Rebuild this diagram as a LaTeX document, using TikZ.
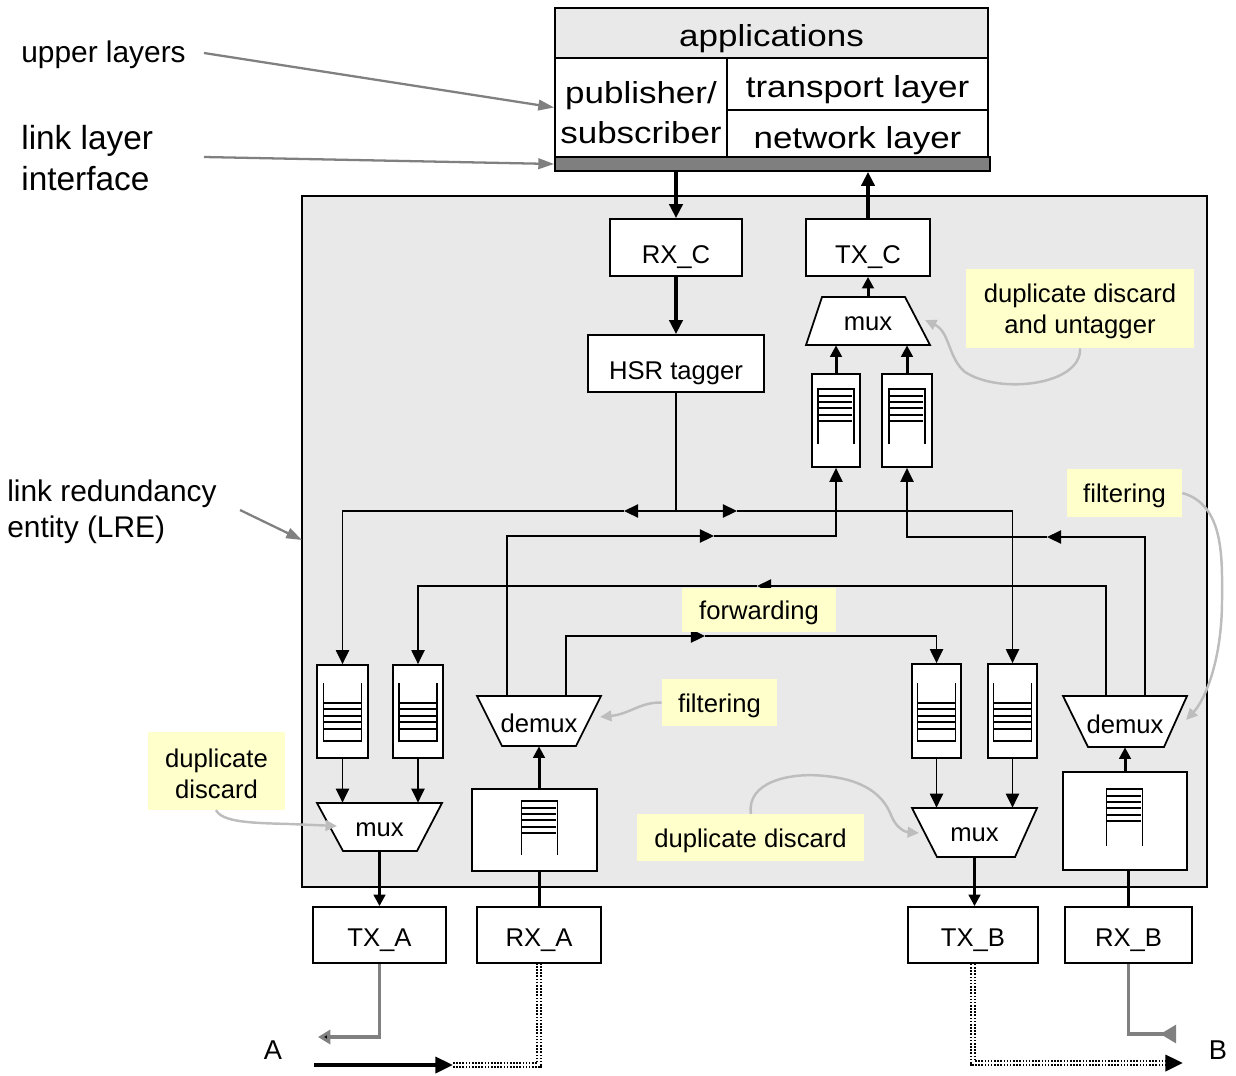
\documentclass[tikz,border=0pt]{standalone}
\usepackage{fontspec}
\setmainfont{Liberation Sans}
\newfontfamily\stretchedsans[FakeStretch=1.15]{Liberation Sans}
\usetikzlibrary{arrows.meta,fit,calc}

\definecolor{lregray}{HTML}{E9E9E9}
\definecolor{notefill}{HTML}{FFFFCC}
\definecolor{bargray}{HTML}{7F7F7F}
\definecolor{pointergray}{HTML}{808080}
\definecolor{remarkgray}{HTML}{BDBDBD}

\tikzset{
  block/.style={draw=black, line width=1pt, fill=white, inner sep=0pt},
  toptext/.style={font=\stretchedsans\fontsize{17.3pt}{23pt}\selectfont, yshift=-3pt},
  porttext/.style={yshift=-3.2pt},
  trapext/.style={yshift=-1.5pt},
  notetext/.style={yshift=-1.7pt, align=center},
  note/.style={fill=notefill, inner sep=0pt},
  plainwire/.style={line width=1pt},
  conn/.style={line width=1pt, -{Triangle[width=7.5pt,length=8pt]}},
  midarr/.style={line width=1.7pt, -{Triangle[width=6.5pt,length=6.5pt]}},
  busarr/.style={line width=2.2pt, -{Triangle[width=7.5pt,length=8pt]}},
  remark/.style={draw=remarkgray, line width=1.4pt, -{Triangle[width=6pt,length=6.5pt,fill=remarkgray]}},
  pointer/.style={draw=pointergray, line width=1.3pt, -{Triangle[width=6pt,length=9pt,fill=pointergray]}},
  linewire/.style={draw=pointergray, line width=2.2pt},
  hatch/.style={line width=3.3pt, draw=black, dash pattern=on 0.9pt off 0.9pt,
    preaction={draw=white, line width=3.3pt, solid},
    postaction={draw=white, line width=1.3pt, solid}},
  bigarr/.style={line width=2.2pt, -{Triangle[width=9pt,length=10pt]}},
}

% FIFO open at the top, #1 = centre of its floor
\newcommand{\fifofloor}[1]{%
  \begin{scope}[shift={#1}]
    \draw[line width=1pt] (-19,-58) -- (-19,0) -- (19,0) -- (19,-58);
    \foreach \h in {12,19,25,32,38} \draw[line width=1pt] (-19,-\h) -- (19,-\h);
  \end{scope}}

% FIFO open at the bottom, #1 = centre of its lid, #2 = depth
\newcommand{\fifolid}[2]{%
  \begin{scope}[shift={#1}]
    \draw[line width=1pt] (-18,#2) -- (-18,0) -- (18,0) -- (18,#2);
    \foreach \h in {7,13,19,26,32} \draw[line width=1pt] (-18,\h) -- (16,\h);
  \end{scope}}

% trapezium node: name, four corners, text
\newcommand{\trapnode}[6]{%
  \draw[line width=1pt, fill=white] #2 -- #3 -- #4 -- #5 -- cycle;
  \node[inner sep=0pt, fit={#2 #3 #4 #5}, label={[trapext]center:#6}] (#1) {};}

\begin{document}
\begin{tikzpicture}[x=0.02cm, y=-0.02cm, font=\fontsize{14.6pt}{17.6pt}\selectfont]
\useasboundingbox (0,0) rectangle (1236,1075);

% ---------- protocol stack ----------
\node[block, fill=lregray, fit={(555,8)(988,58)}, label={[toptext]center:applications}] (apps) {};
\node[block, fit={(555,58)(727,157)}, label={[toptext, align=center]center:publisher/\\subscriber}] (pubsub) {};
\node[block, fit={(727,58)(988,110)}, label={[toptext]center:transport layer}] (transport) {};
\node[block, fit={(727,110)(988,157)}, label={[toptext, yshift=-0.8pt]center:network layer}] (network) {};
\node[block, fill=bargray, fit={(555,157)(990,171)}] (bar) {};

% ---------- link redundancy entity ----------
\node[block, fill=lregray, fit={(302,196)(1207,887)}] (lre) {};

\node[block, fit={(610,219)(742,276)}, label={[yshift=-5.5pt]center:RX\_C}] (rxc) {};
\node[block, fit={(806,219)(930,276)}, label={[yshift=-5.5pt]center:TX\_C}] (txc) {};
\node[block, fit={(588,335)(764,392)}, label={[yshift=-5.5pt]center:HSR tagger}] (hsr) {};

\trapnode{muxc}{(822,297)}{(905,297)}{(930,345)}{(806,345)}{mux}

\node[block, fit={(812,374)(860,467)}] (qu1) {};
\node[block, fit={(882,374)(932,467)}] (qu2) {};
\fifolid{(836,389)}{55}
\fifolid{(907,389)}{55}

\node[block, fit={(317,665)(368,758)}] (ql1) {};
\node[block, fit={(393,665)(443,758)}] (ql2) {};
\node[block, fit={(912,664)(961,758)}] (ql3) {};
\node[block, fit={(988,664)(1037,758)}] (ql4) {};
\fifofloor{(342.5,741)}
\fifofloor{(418,741)}
\fifofloor{(936.5,741)}
\fifofloor{(1012.5,741)}

\trapnode{muxa}{(317,803)}{(442,803)}{(417,851)}{(343,851)}{mux}
\trapnode{muxb}{(912,808)}{(1037,808)}{(1015,857)}{(937,857)}{mux}
\trapnode{demuxa}{(477,696)}{(601,696)}{(576,746)}{(502,746)}{demux}
\trapnode{demuxb}{(1063,696)}{(1187,696)}{(1164,747)}{(1088,747)}{demux}

\node[block, fit={(472,789)(597,871)}] (bufa) {};
\node[block, fit={(1063,772)(1187,870)}] (bufb) {};
\fifolid{(539.5,801)}{54}
\fifolid{(1124.5,789)}{57}

% ---------- port boxes ----------
\node[block, fit={(313,907)(446,963)}, label={[porttext]center:TX\_A}] (txa) {};
\node[block, fit={(477,907)(601,963)}, label={[porttext]center:RX\_A}] (rxa) {};
\node[block, fit={(908,907)(1038,963)}, label={[porttext]center:TX\_B}] (txb) {};
\node[block, fit={(1065,907)(1192,963)}, label={[porttext]center:RX\_B}] (rxb) {};

% ---------- vertical data paths ----------
\draw[busarr] (bar.south -| rxc.north) -- (rxc.north);
\draw[busarr] (txc.north) -- (txc.north |- bar.south);
\draw[busarr] (rxc.south) -- (rxc.south |- hsr.north);
\draw[midarr] (muxc.north) -- (txc.south);
\draw[midarr] (qu1.north) -- (qu1.north |- muxc.south);
\draw[midarr] (qu2.north) -- (qu2.north |- muxc.south);

\draw[conn] (ql1.south) -- (ql1.south |- muxa.north);
\draw[conn] (ql2.south) -- (ql2.south |- muxa.north);
\draw[conn] (ql3.south) -- (ql3.south |- muxb.north);
\draw[conn] (ql4.south) -- (ql4.south |- muxb.north);

\draw[midarr] (muxa.south) -- (muxa.south |- txa.north);
\draw[midarr] (muxb.south) -- (muxb.south |- txb.north);
\draw[midarr] (demuxa.south |- bufa.north) -- (demuxa.south);
\draw[midarr] (demuxb.south |- bufb.north) -- (demuxb.south);
\draw[line width=1.7pt] (rxa.north) -- (rxa.north |- bufa.south);
\draw[line width=1.7pt] (rxb.north) -- (rxb.north |- bufb.south);

% ---------- ring routing ----------
\coordinate (busA) at (676,511);
\coordinate (tipL) at (624,511);
\coordinate (tipR) at (737,511);
\draw[plainwire] (hsr.south) -- (busA);
\draw[conn] (busA) -- (tipL);
\draw[conn] (tipL) -| (ql1.north);
\draw[conn] (busA) -- (tipR);
\draw[conn] (tipR) -| (ql4.north);

\coordinate (dAl) at (507,696);
\coordinate (dAr) at (566,696);
\coordinate (dBl) at (1106,696);
\coordinate (dBr) at (1145,696);
\coordinate (tipB) at (714,536);
\coordinate (tipC) at (1047,537);
\coordinate (tipD) at (757,586);
\coordinate (tipE) at (705,636);

\draw[conn] (dAl) |- (tipB);
\draw[conn] (tipB) -| (qu1.south);
\draw[conn] (dBr) |- (tipC);
\draw[conn] (tipC) -| (qu2.south);
\draw[conn] (dBl) |- (tipD);
\draw[conn] (tipD) -| (ql2.north);
\draw[conn] (dAr) |- (tipE);
\draw[conn] (tipE) -| (ql3.north);

% ---------- line attachments ----------
\coordinate (Aout) at (318,1037);
\draw[linewire, -{Triangle[width=8pt,length=7pt,fill=black,color=pointergray]}] (txa.south) |- (Aout);
\coordinate (Ain) at (314,1065);
\coordinate (Ajoin) at (453,1065);
\draw[bigarr] (Ain) -- (Ajoin);
\draw[hatch] (Ajoin) -| (rxa.south);

\coordinate (Bout) at (1166,1063);
\coordinate (Btip) at (1183,1063);
\draw[hatch] (txb.south) |- (Bout);
\draw[bigarr] (Bout) -- (Btip);
\coordinate (Bin) at (1176,1034);
\draw[linewire, -{Triangle[reversed,width=10pt,length=9pt,fill=pointergray]}] (rxb.south) |- (Bin);

\node (labA) at (273,1050) {\fontsize{15.5pt}{18pt}\selectfont A};
\node (labB) at (1218,1050) {\fontsize{15.5pt}{18pt}\selectfont B};

% ---------- annotations ----------
\node[note, fit={(966,269)(1194,348)}, label={[notetext]center:duplicate discard\\and untagger}] (nUntag) {};
\node[note, fit={(1067,469)(1182,517)}, label={[notetext]center:filtering}] (nFiltR) {};
\node[note, fit={(682,588)(836,632)}, label={[notetext]center:forwarding}] (nFwd) {};
\node[note, fit={(662,679)(777,726)}, label={[notetext]center:filtering}] (nFiltM) {};
\node[note, fit={(637,814)(864,861)}, label={[notetext]center:duplicate discard}] (nDupM) {};
\node[note, fit={(148,732)(285,810)}, label={[notetext]center:duplicate\\discard}] (nDupL) {};

\draw[remark] (nUntag.south) .. controls (1082,385) and (1000,395) .. (965,372)
  .. controls (948,358) and (950,332) .. (925,320);
\draw[remark] (nFiltR.east) .. controls (1225,505) and (1222,560) .. (1222,600)
  .. controls (1222,660) and (1205,700) .. (1186,720);
\draw[remark] (nFiltM.west) .. controls (640,702) and (630,714) .. (600,717);
\draw[remark] (751,814) .. controls (746,782) and (790,772) .. (825,776)
  .. controls (870,780) and (885,800) .. (891,815) .. controls (896,828) and (905,832) .. (919,833);
\draw[remark] (216,810) .. controls (222,822) and (250,823) .. (290,824) -- (337,826);

% ---------- side labels ----------
\node[anchor=west, inner sep=0pt, font=\fontsize{17pt}{20pt}\selectfont] (lblUpper) at (21,55) {upper layers};
\node[anchor=west, inner sep=0pt, align=left, font=\fontsize{19pt}{23.3pt}\selectfont] (lblLink) at (21,158) {link layer\\interface};
\node[anchor=west, inner sep=0pt, align=left, font=\fontsize{17pt}{20.5pt}\selectfont] (lblLre) at (7,512) {link redundancy\\entity (LRE)};

\coordinate (pUpper) at (204,53);
\coordinate (pLink) at (204,157);
\coordinate (pLre) at (240,510);
\coordinate (lreIn) at (302,540);
\draw[pointer] (pUpper) -- (pubsub.west);
\draw[pointer] (pLink) -- (bar.west);
\draw[pointer] (pLre) -- (lreIn);

\end{tikzpicture}
\end{document}
